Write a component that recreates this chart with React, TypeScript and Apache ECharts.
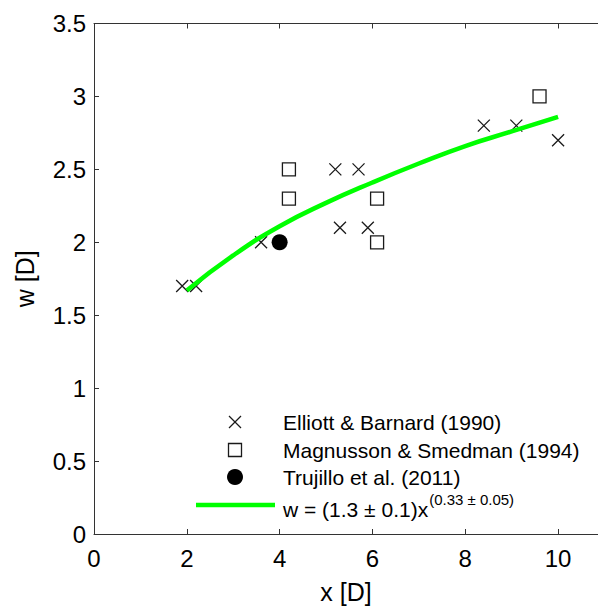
import React, { useEffect, useRef } from "react";
import * as echarts from "echarts";

// Elliott & Barnard (1990)
const elliottX = [1.9, 2.2, 3.6, 5.2, 5.7, 5.3, 5.9, 8.4, 9.1, 10.0];
const elliottW = [1.7, 1.7, 2.0, 2.5, 2.5, 2.1, 2.1, 2.8, 2.8, 2.7];

// Magnusson & Smedman (1994)
const magnussonX = [4.2, 4.2, 6.1, 6.1, 9.6];
const magnussonW = [2.5, 2.3, 2.3, 2.0, 3.0];

// Trujillo et al. (2011)
const trujilloX = [4.0];
const trujilloW = [2.0];

// Power-law fit w = (1.3 ± 0.1) x^(0.33 ± 0.05), sampled along the curve
const fitX = [2, 3, 4, 5, 6, 7, 8, 9, 10];
const fitW = [1.67, 1.91, 2.11, 2.27, 2.41, 2.54, 2.66, 2.76, 2.86];

const legendLabels = [
  "Elliott & Barnard (1990)",
  "Magnusson & Smedman (1994)",
  "Trujillo et al. (2011)",
];
const fitLabel = "w = (1.3 \u00b1 0.1)x";
const fitExponent = "(0.33 \u00b1 0.05)";

// visible x range runs past the last labelled tick to the figure edge
const X_MIN = 0;
const X_MAX = 10.86;

const FONT = '"Liberation Sans", Arial, Helvetica, sans-serif';
const AXIS_COLOR = "#333333";
const GREEN = "#00ff00";

const pairs = (xs: number[], ys: number[]) => xs.map((x, i) => [x, ys[i]]);

function measure(text: string, size: number): number {
  const ctx = document.createElement("canvas").getContext("2d");
  if (!ctx) return text.length * size * 0.5;
  ctx.font = `${size}px ${FONT}`;
  return ctx.measureText(text).width;
}

export default function App() {
  const ref = useRef<HTMLDivElement>(null);

  useEffect(() => {
    if (!ref.current) return;
    const chart = echarts.init(ref.current, undefined, { renderer: "svg" });

    const legendX = 235;
    const textX = 283;
    const rows = [422, 450, 477, 506];
    const legendSize = 21;
    const mainW = measure(fitLabel, legendSize);

    const axisCommon = {
      axisLine: { show: true, lineStyle: { color: AXIS_COLOR, width: 1 } },
      axisTick: { show: true, inside: true, length: 5, lineStyle: { color: AXIS_COLOR } },
      splitLine: { show: false },
    };

    chart.setOption({
      animation: false,
      backgroundColor: "#ffffff",
      textStyle: { fontFamily: FONT },
      grid: { left: 94, top: 23.5, bottom: 72, right: 0, containLabel: false },
      xAxis: [
        {
          type: "value",
          min: X_MIN,
          max: X_MAX,
          interval: 2,
          position: "bottom",
          name: "x [D]",
          nameLocation: "middle",
          nameGap: 45,
          nameTextStyle: { fontSize: 25, color: "#000", fontFamily: FONT },
          axisLabel: {
            fontSize: 24,
            color: "#000",
            margin: 12,
            fontFamily: FONT,
            showMaxLabel: false,
          },
          ...axisCommon,
        },
        {
          type: "value",
          min: X_MIN,
          max: X_MAX,
          interval: 2,
          position: "top",
          axisLabel: { show: false },
          ...axisCommon,
        },
      ],
      yAxis: {
        type: "value",
        min: 0,
        max: 3.5,
        interval: 0.5,
        name: "w [D]",
        nameLocation: "middle",
        nameGap: 57,
        nameTextStyle: { fontSize: 25, color: "#000", fontFamily: FONT },
        axisLabel: { fontSize: 24, color: "#000", margin: 8, fontFamily: FONT },
        ...axisCommon,
      },
      series: [
        {
          name: legendLabels[0],
          type: "scatter",
          data: pairs(elliottX, elliottW),
          symbol: "path://M0,0L10,10M10,0L0,10",
          symbolSize: 12,
          itemStyle: { color: "transparent", borderColor: "#1a1a1a", borderWidth: 1.3, opacity: 1 },
          z: 3,
        },
        {
          name: legendLabels[1],
          type: "scatter",
          data: pairs(magnussonX, magnussonW),
          symbol: "rect",
          symbolSize: 13,
          itemStyle: { color: "#fff", borderColor: "#1a1a1a", borderWidth: 1.3, opacity: 1 },
          z: 3,
        },
        {
          name: legendLabels[2],
          type: "scatter",
          data: pairs(trujilloX, trujilloW),
          symbol: "circle",
          symbolSize: 16,
          itemStyle: { color: "#000", opacity: 1 },
          z: 3,
        },
        {
          name: "fit",
          type: "line",
          data: pairs(fitX, fitW),
          smooth: true,
          showSymbol: false,
          symbol: "none",
          lineStyle: { color: GREEN, width: 4.5 },
          z: 4,
        },
      ],
      graphic: [
        // legend markers
        {
          type: "line",
          shape: { x1: legendX - 6, y1: rows[0] - 6, x2: legendX + 6, y2: rows[0] + 6 },
          style: { stroke: "#1a1a1a", lineWidth: 1.3 },
        },
        {
          type: "line",
          shape: { x1: legendX + 6, y1: rows[0] - 6, x2: legendX - 6, y2: rows[0] + 6 },
          style: { stroke: "#1a1a1a", lineWidth: 1.3 },
        },
        {
          type: "rect",
          shape: { x: legendX - 6.5, y: rows[1] - 6.5, width: 13, height: 13 },
          style: { fill: "#fff", stroke: "#1a1a1a", lineWidth: 1.3 },
        },
        {
          type: "circle",
          shape: { cx: legendX, cy: rows[2], r: 8 },
          style: { fill: "#000" },
        },
        {
          type: "line",
          shape: { x1: 196, y1: rows[3] - 1, x2: 275, y2: rows[3] - 1 },
          style: { stroke: GREEN, lineWidth: 4.5 },
        },
        // legend texts
        ...legendLabels.map((t, i) => ({
          type: "text",
          x: textX,
          y: rows[i],
          style: {
            text: t,
            fontSize: legendSize,
            fontFamily: FONT,
            fill: "#000",
            verticalAlign: "middle",
            align: "left",
          },
        })),
        {
          type: "text",
          x: textX,
          y: rows[3] + 3,
          style: {
            text: fitLabel,
            fontSize: legendSize,
            fontFamily: FONT,
            fill: "#000",
            verticalAlign: "middle",
            align: "left",
          },
        },
        {
          type: "text",
          x: textX + mainW + 1,
          y: rows[3] - 7,
          style: {
            text: fitExponent,
            fontSize: 15,
            fontFamily: FONT,
            fill: "#000",
            verticalAlign: "middle",
            align: "left",
          },
        },
      ],
    });

    return () => chart.dispose();
  }, []);

  return (
    <div
      ref={ref}
      style={{ position: "fixed", left: 0, top: 0, width: 598, height: 609, background: "#fff" }}
    />
  );
}
